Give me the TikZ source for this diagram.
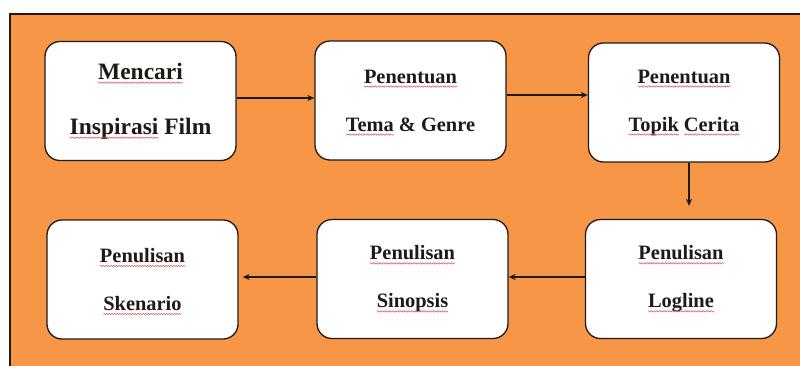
\documentclass[tikz,border=0pt]{standalone}
\usepackage{fontspec}
\setmainfont{Liberation Serif}
\usetikzlibrary{arrows.meta,decorations.pathmorphing}
\definecolor{bgorange}{RGB}{247,150,70}
\definecolor{ink}{RGB}{30,26,24}
\definecolor{wavered}{RGB}{215,100,100}
\newcommand\redwave[1]{\tikz[baseline=(w.base)]{\node[draw=none,fill=none,
  minimum width=0pt,minimum height=0pt,inner sep=0pt,outer sep=0pt,
  rounded corners=0pt] (w) {#1};
  \draw[overlay, wavered, line width=0.55pt, rounded corners=0pt, decorate,
  decoration={snake, amplitude=0.7pt, segment length=2.6pt}]
  ([yshift=-3.5pt]w.base west) -- ([yshift=-3.5pt]w.base east);}}
\tikzset{
  stepbox/.style={draw=ink, line width=1.3pt, fill=white, rounded corners=15pt,
    minimum width=191pt, minimum height=119pt, align=center, text=ink,
    font=\bfseries\fontsize{20.4}{48}\selectfont},
  bigtext/.style={font=\bfseries\fontsize{23.5}{55}\selectfont},
  arr/.style={draw=ink, line width=1.1pt, -{Stealth[length=7pt,width=6pt]}}
}
\begin{document}
\begin{tikzpicture}[x=1pt,y=-1pt]
\useasboundingbox (0,0) rectangle (800,365);
\fill[white] (0,0) rectangle (800,365);
\fill[bgorange] (10,14) rectangle (802,367);
\draw[ink, line width=1.5pt] (10,367) -- (10,14) -- (802,14);

\node[stepbox, bigtext] (b1) at (140.5,101) {\redwave{Mencari}\\\redwave{Inspirasi} Film};
\node[stepbox] (b2) at (410.5,100.5) {\redwave{Penentuan}\\\redwave{Tema} \& Genre};
\node[stepbox] (b3) at (684,102.5) {\redwave{Penentuan}\\\redwave{Topik} \redwave{Cerita}};
\node[stepbox] (b4) at (681,279) {\redwave{Penulisan}\\\redwave{Logline}};
\node[stepbox] (b5) at (412.5,279) {\redwave{Penulisan}\\\redwave{Sinopsis}};
\node[stepbox] (b6) at (142.5,279.5) {\redwave{Penulisan}\\\redwave{Skenario}};

\coordinate (t4) at ([yshift=13pt]b4.north);
\draw[arr] ([yshift=3pt]b1.east) -- ([yshift=3pt]b1.east -| b2.west);
\draw[arr] ([yshift=5.5pt]b2.east) -- ([yshift=5.5pt]b2.east -| b3.west);
\draw[arr] ([xshift=5pt]b3.south) -- ([xshift=5pt]b3.south |- t4);
\draw[arr] ([yshift=2pt]b4.west) -- ([yshift=2pt]b4.west -| b5.east);
\draw[arr] ([yshift=2pt]b5.west) -- ([xshift=4pt,yshift=2pt]b5.west -| b6.east);
\end{tikzpicture}
\end{document}
